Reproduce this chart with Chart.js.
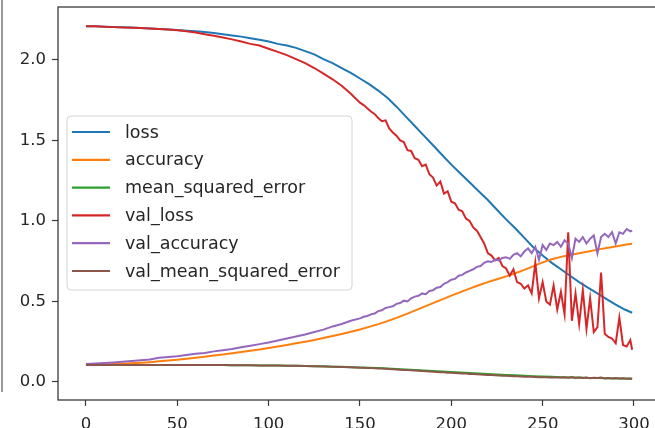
<!DOCTYPE html>
<html lang="en">
  <head>
    <meta charset="UTF-8" />
    <title>Training history</title>
    <script src="https://cdn.jsdelivr.net/npm/chart.js"></script>
    <style>
      body {
        margin: 0;
        background: #fff;
        overflow: hidden;
        width: 655px;
        height: 428px;
        position: relative;
      }
      .cell-edge {
        position: absolute;
        left: 1px;
        top: 0;
        width: 2px;
        height: 392px;
        background: #9a9a9a;
      }
      canvas {
        position: absolute;
        left: 0;
        top: 0;
      }
    </style>
  </head>
  <body>
    <div class="cell-edge"></div>
    <canvas id="history" width="665" height="428"></canvas>

    <script>
      // epochs of the training metrics (read every 5 epochs)
      const epochs = [
        0, 5, 10, 15, 20, 25, 30, 35, 40, 45,
        50, 55, 60, 65, 70, 75, 80, 85, 90, 95,
        100, 105, 110, 115, 120, 125, 130, 135, 140, 145,
        150, 155, 160, 165, 170, 175, 180, 185, 190, 195,
        200, 205, 210, 215, 220, 225, 230, 235, 240, 245,
        250, 255, 260, 265, 270, 275, 280, 285, 290, 295,
        299,
      ];
      const loss = [
        2.21, 2.209, 2.207, 2.205, 2.203, 2.201, 2.199, 2.196, 2.193, 2.19,
        2.186, 2.182, 2.178, 2.173, 2.167, 2.16, 2.152, 2.145, 2.135, 2.125,
        2.115, 2.1, 2.09, 2.075, 2.055, 2.035, 2.005, 1.98, 1.95, 1.92,
        1.885, 1.85, 1.81, 1.765, 1.71, 1.65, 1.59, 1.53, 1.47, 1.41,
        1.35, 1.295, 1.24, 1.185, 1.13, 1.07, 1.01, 0.955, 0.895, 0.835,
        0.785, 0.74, 0.7, 0.66, 0.62, 0.585, 0.55, 0.515, 0.48, 0.45,
        0.43,
      ];
      const accuracy = [
        0.105, 0.107, 0.109, 0.111, 0.113, 0.116, 0.119, 0.123, 0.128, 0.133,
        0.138, 0.144, 0.15, 0.157, 0.164, 0.171, 0.178, 0.186, 0.194, 0.202,
        0.211, 0.22, 0.23, 0.24, 0.25, 0.261, 0.273, 0.285, 0.298, 0.312,
        0.326, 0.342, 0.359, 0.378, 0.398, 0.42, 0.443, 0.466, 0.49, 0.513,
        0.536, 0.558, 0.58, 0.601, 0.62, 0.638, 0.656, 0.675, 0.696, 0.72,
        0.743, 0.762, 0.777, 0.789, 0.8, 0.811, 0.822, 0.832, 0.842, 0.852,
        0.858,
      ];
      const mse = [
        0.106, 0.106, 0.106, 0.106, 0.106, 0.106, 0.106, 0.106, 0.106, 0.106,
        0.106, 0.105, 0.105, 0.105, 0.105, 0.105, 0.104, 0.104, 0.104, 0.103,
        0.103, 0.102, 0.101, 0.1, 0.099, 0.098, 0.097, 0.095, 0.094, 0.092,
        0.09, 0.088, 0.086, 0.083, 0.08, 0.077, 0.074, 0.071, 0.068, 0.065,
        0.062, 0.059, 0.056, 0.053, 0.05, 0.047, 0.044, 0.041, 0.038, 0.036,
        0.034, 0.032, 0.03, 0.028, 0.027, 0.025, 0.024, 0.023, 0.022, 0.021,
        0.02,
      ];

      // validation metrics are noisier, so read them more densely later on
      const valEpochs = [
        0, 5, 10, 15, 20, 25, 30, 35, 40, 45,
        50, 55, 60, 65, 70, 75, 80, 85, 90, 95,
        100, 105, 110, 115, 120, 125, 130, 135, 140, 145,
        150,
        152, 154, 156, 158, 160, 162, 164, 166, 168, 170,
        172, 174, 176, 178, 180, 182, 184, 186, 188, 190,
        192, 194, 196, 198, 200, 202, 204, 206, 208, 210,
        212, 214, 216, 218, 220, 222, 224, 226, 228, 230,
        232, 234, 236, 238, 240, 242, 244, 246, 248, 250,
        252, 254, 256, 258, 260, 262, 264, 266, 268, 270,
        272, 274, 276, 278, 280, 282, 284, 286, 288, 290,
        292, 294, 296, 298, 299,
      ];
      const valLoss = [
        2.21, 2.209, 2.207, 2.204, 2.202, 2.2, 2.198, 2.195, 2.193, 2.19,
        2.185, 2.178, 2.17, 2.16, 2.15, 2.14, 2.128, 2.115, 2.1, 2.09,
        2.07, 2.05, 2.03, 2.005, 1.98, 1.95, 1.915, 1.88, 1.84, 1.79,
        1.735,
        1.72, 1.7, 1.68, 1.665, 1.64, 1.62, 1.625, 1.575, 1.55, 1.53,
        1.5, 1.49, 1.44, 1.435, 1.39, 1.38, 1.34, 1.35, 1.29, 1.27,
        1.22, 1.245, 1.17, 1.185, 1.12, 1.11, 1.07, 1.06, 1.015, 1.0,
        0.96, 0.94, 0.9, 0.86, 0.8, 0.785, 0.755, 0.77, 0.72, 0.705,
        0.66, 0.7, 0.62, 0.61, 0.58, 0.6, 0.55, 0.74, 0.52, 0.62,
        0.5, 0.48, 0.6, 0.45, 0.56, 0.42, 0.93, 0.38, 0.55, 0.36,
        0.57, 0.33, 0.52, 0.31, 0.34, 0.68, 0.3, 0.28, 0.27, 0.24,
        0.4, 0.23, 0.22, 0.26, 0.2,
      ];
      const valAccuracy = [
        0.112, 0.115, 0.118, 0.121, 0.125, 0.13, 0.135, 0.14, 0.15, 0.155,
        0.16, 0.167, 0.175, 0.18, 0.19, 0.197, 0.205, 0.215, 0.225, 0.235,
        0.245, 0.257, 0.27, 0.282, 0.295, 0.31, 0.325, 0.345, 0.36, 0.38,
        0.395,
        0.405, 0.41, 0.42, 0.425, 0.44, 0.445, 0.46, 0.465, 0.47, 0.485,
        0.49, 0.505, 0.5, 0.52, 0.53, 0.535, 0.55, 0.545, 0.565, 0.57,
        0.585, 0.59, 0.61, 0.62, 0.635, 0.64, 0.66, 0.665, 0.68, 0.69,
        0.7, 0.715, 0.72, 0.74, 0.75, 0.745, 0.76, 0.755, 0.77, 0.775,
        0.765, 0.79, 0.8, 0.78, 0.81, 0.83, 0.8, 0.84, 0.76, 0.85,
        0.82, 0.86, 0.85, 0.87, 0.84, 0.88, 0.86, 0.77, 0.89, 0.87,
        0.9, 0.86, 0.89, 0.91, 0.8, 0.9, 0.92, 0.9, 0.93, 0.86,
        0.93, 0.92, 0.95, 0.935, 0.94,
      ];
      const valMse = [
        0.106, 0.106, 0.106, 0.106, 0.106, 0.106, 0.106, 0.106, 0.106, 0.106,
        0.106, 0.105, 0.105, 0.105, 0.105, 0.105, 0.104, 0.104, 0.104, 0.103,
        0.103, 0.102, 0.101, 0.1, 0.099, 0.098, 0.096, 0.095, 0.093, 0.091,
        0.089,
        0.088, 0.087, 0.086, 0.085, 0.084, 0.083, 0.082, 0.08, 0.079, 0.078,
        0.076, 0.075, 0.074, 0.072, 0.071, 0.07, 0.068, 0.067, 0.065, 0.064,
        0.062, 0.061, 0.06, 0.058, 0.057, 0.056, 0.054, 0.053, 0.052, 0.05,
        0.049, 0.048, 0.046, 0.045, 0.044, 0.043, 0.041, 0.04, 0.039, 0.038,
        0.037, 0.036, 0.035, 0.034, 0.033, 0.032, 0.032, 0.031, 0.03, 0.03,
        0.029, 0.028, 0.028, 0.027, 0.027, 0.029, 0.026, 0.031, 0.025, 0.027,
        0.024, 0.028, 0.023, 0.026, 0.024, 0.027, 0.022, 0.025, 0.021, 0.024,
        0.021, 0.023, 0.02, 0.022, 0.02,
      ];

      const xTicks = [0, 50, 100, 150, 200, 250, 300];
      const yTicks = [0, 0.5, 1.0, 1.5, 2.0];

      const labels = [
        "loss",
        "accuracy",
        "mean_squared_error",
        "val_loss",
        "val_accuracy",
        "val_mean_squared_error",
      ];
      const colors = ["#1f77b4", "#ff7f0e", "#2ca02c", "#d62728", "#9467bd", "#8c564b"];

      function pairs(xs, ys) {
        return xs.map((x, i) => ({ x: x, y: ys[i] }));
      }

      const series = [
        pairs(epochs, loss),
        pairs(epochs, accuracy),
        pairs(epochs, mse),
        pairs(valEpochs, valLoss),
        pairs(valEpochs, valAccuracy),
        pairs(valEpochs, valMse),
      ];

      const FONT = "'DejaVu Sans', sans-serif";
      const INK = "#262626";

      // top/right spines like matplotlib
      const frame = {
        id: "frame",
        afterDraw(chart) {
          const a = chart.chartArea;
          const c = chart.ctx;
          c.save();
          c.strokeStyle = "#3a3a3a";
          c.lineWidth = 1.3;
          c.strokeRect(a.left, a.top, a.right - a.left, a.bottom - a.top);
          c.restore();
        },
      };

      // legend box in the upper-left of the plot, drawn by hand
      const boxLegend = {
        id: "boxLegend",
        afterDatasetsDraw(chart) {
          const c = chart.ctx;
          const x = 67, y = 116, w = 285, h = 174, r = 4;
          c.save();
          c.beginPath();
          c.roundRect(x, y, w, h, r);
          c.fillStyle = "rgba(255,255,255,0.85)";
          c.fill();
          c.strokeStyle = "#d4d4d4";
          c.lineWidth = 1;
          c.stroke();
          c.font = "17.5px " + FONT;
          c.textBaseline = "middle";
          chart.data.datasets.forEach((ds, i) => {
            const ly = 132 + i * 27.8;
            c.strokeStyle = ds.borderColor;
            c.lineWidth = 2.2;
            c.beginPath();
            c.moveTo(72, ly);
            c.lineTo(110, ly);
            c.stroke();
            c.fillStyle = INK;
            c.fillText(ds.label, 125, ly + 1);
          });
          c.restore();
        },
      };

      new Chart(document.getElementById("history"), {
        type: "line",
        data: {
          datasets: series.map((d, i) => ({
            label: labels[i],
            data: d,
            borderColor: colors[i],
            backgroundColor: colors[i],
            borderWidth: 2,
            pointRadius: 0,
            tension: 0,
            order: series.length - i,
          })),
        },
        options: {
          responsive: false,
          animation: false,
          devicePixelRatio: 1,
          layout: { padding: { left: 0, top: 7, right: 6, bottom: 0 } },
          plugins: { legend: { display: false }, tooltip: { enabled: false } },
          scales: {
            x: {
              type: "linear",
              min: -15.3,
              max: 313.7,
              afterBuildTicks: (s) => {
                s.ticks = xTicks.map((v) => ({ value: v }));
              },
              afterFit: (s) => {
                s.height = 28;
                s.paddingLeft = 0;
                s.paddingRight = 0;
              },
              grid: {
                drawOnChartArea: false,
                drawTicks: true,
                tickLength: 6,
                tickWidth: 1.2,
                tickColor: "#3a3a3a",
              },
              border: { display: false },
              ticks: {
                padding: 9,
                color: INK,
                font: { family: FONT, size: 16.5 },
                maxRotation: 0,
                callback: (v) => String(v),
              },
            },
            y: {
              type: "linear",
              min: -0.112,
              max: 2.329,
              afterBuildTicks: (s) => {
                s.ticks = yTicks.map((v) => ({ value: v }));
              },
              afterFit: (s) => {
                s.width = 58;
                s.paddingTop = 0;
                s.paddingBottom = 0;
              },
              grid: {
                drawOnChartArea: false,
                drawTicks: true,
                tickLength: 6,
                tickWidth: 1.2,
                tickColor: "#3a3a3a",
              },
              border: { display: false },
              ticks: {
                padding: 6,
                color: INK,
                font: { family: FONT, size: 16.5 },
                callback: (v) => Number(v).toFixed(1),
              },
            },
          },
        },
        plugins: [frame, boxLegend],
      });
    </script>
  </body>
</html>
